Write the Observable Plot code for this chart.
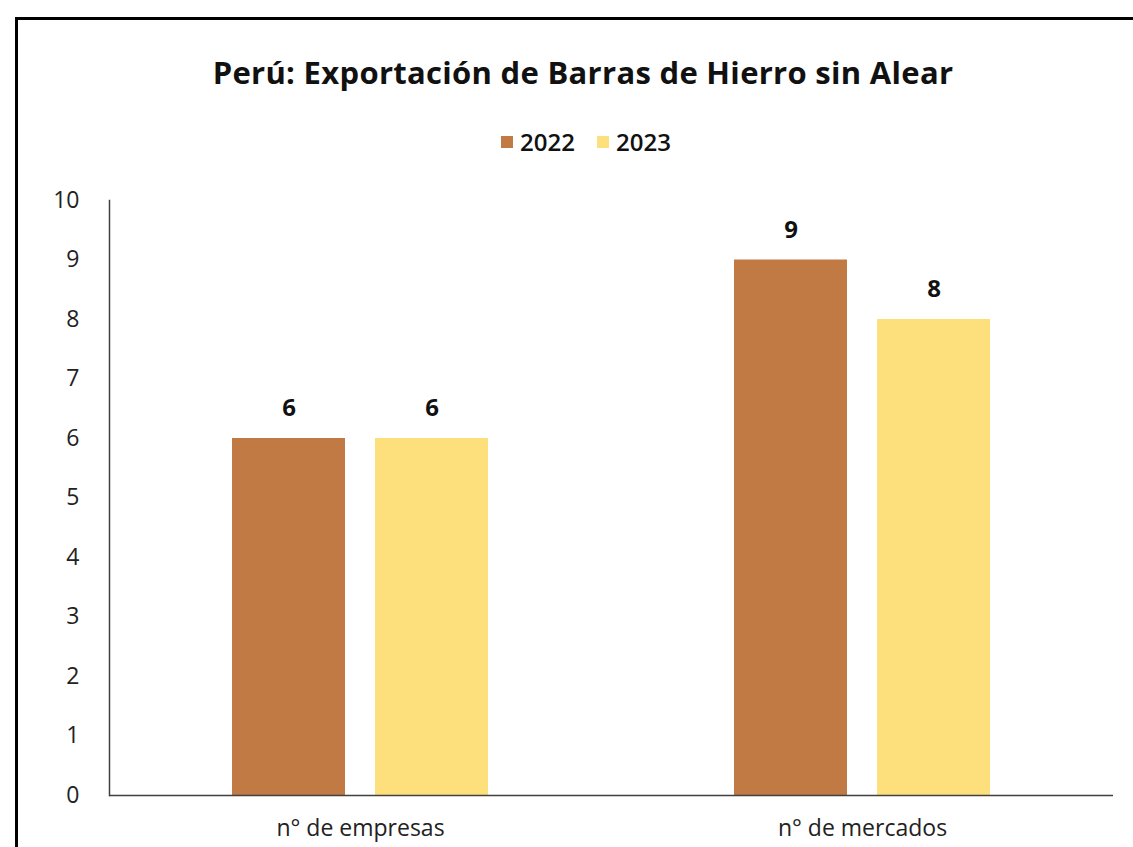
<!DOCTYPE html>
<html>
<head>
<meta charset="utf-8">
<script src="https://cdn.jsdelivr.net/npm/d3@7"></script>
<script src="https://cdn.jsdelivr.net/npm/@observablehq/plot@0.6"></script>
<style>
  html, body { margin: 0; padding: 0; background: #fff; overflow: hidden; }
  #wrap { position: relative; width: 1133px; height: 847px; overflow: hidden; font-family: "Open Sans", sans-serif; }
  #frame { position: absolute; left: 15px; top: 17px; width: 1300px; height: 1000px; border: 3px solid #000; box-sizing: border-box; }
  #title { position: absolute; left: 0; width: 1166px; top: 50px; line-height: 44px; text-align: center; font-size: 31px; font-weight: 700; letter-spacing: 0.3px; color: #111; }
  #legend { position: absolute; left: 0; width: 1172px; top: 125px; line-height: 34px; display: flex; justify-content: center; gap: 22px; font-size: 24px; font-weight: 600; color: #111; }
  #legend span.item { display: flex; align-items: center; gap: 7px; }
  #legend span.sw { width: 12px; height: 12px; display: inline-block; }
  #chart { position: absolute; left: 0; top: 0; }
</style>
</head>
<body>
<div id="wrap">
  <div id="frame"></div>
  <div id="chart"></div>
  <div id="title"></div>
  <div id="legend"></div>
</div>
<script>
const title = "Perú: Exportación de Barras de Hierro sin Alear";
const categories = ["n° de empresas", "n° de mercados"];
const years = ["2022", "2023"];
const values2022 = [6, 9];
const values2023 = [6, 8];
const colors = ["#C17A43", "#FDDF7B"];
const yTicks = [0, 1, 2, 3, 4, 5, 6, 7, 8, 9, 10];

const data = [];
categories.forEach((c, i) => {
  data.push({category: c, year: years[0], value: values2022[i]});
  data.push({category: c, year: years[1], value: values2023[i]});
});

document.getElementById("title").textContent = title;
const legend = document.getElementById("legend");
years.forEach((y, i) => {
  const item = document.createElement("span");
  item.className = "item";
  const sw = document.createElement("span");
  sw.className = "sw";
  sw.style.background = colors[i];
  const t = document.createElement("span");
  t.textContent = y;
  item.appendChild(sw); item.appendChild(t);
  legend.appendChild(item);
});

const chart = Plot.plot({
  width: 1133,
  height: 847,
  marginLeft: 108,
  marginRight: 20,
  marginTop: 200,
  marginBottom: 52,
  style: {fontFamily: "Open Sans, sans-serif", fontSize: "22px", color: "#222", background: "transparent"},
  fx: {domain: categories, padding: 0, label: null},
  x: {domain: years, paddingInner: 0.21, paddingOuter: 0.86, axis: null},
  y: {domain: [0, 10], label: null},
  color: {domain: years, range: colors},
  marks: [
    Plot.barY(data, {fx: "category", x: "year", y: "value", fill: "year"}),
    Plot.text(data, {fx: "category", x: "year", y: "value", text: d => String(d.value), dy: -30, fontWeight: "bold", fontSize: 24, fill: "#111"}),
    Plot.ruleY([0], {stroke: "#404040", strokeWidth: 1.5}),
    Plot.frame({anchor: "left", facetAnchor: "left", stroke: "#404040", strokeWidth: 1.5}),
    Plot.axisY({ticks: yTicks, tickSize: 0, tickPadding: 30, tickFormat: d => String(d), fontSize: 23, label: null}),
    Plot.axisFx({anchor: "bottom", tickSize: 0, tickPadding: 24, fontSize: 23, label: null, style: {letterSpacing: "1px"}})
  ]
});
document.getElementById("chart").appendChild(chart);
</script>
</body>
</html>
